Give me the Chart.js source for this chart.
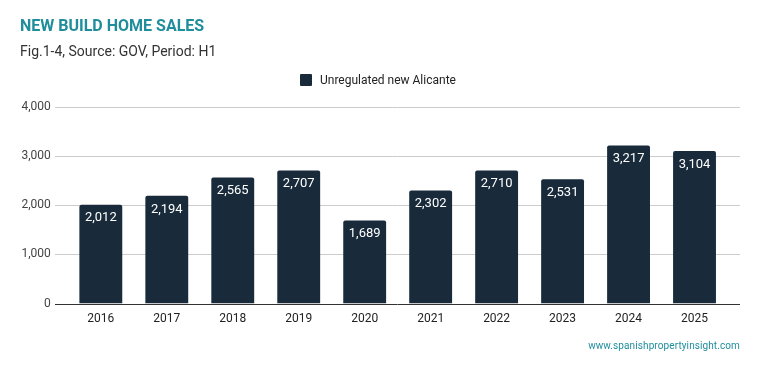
<!DOCTYPE html>
<html>
<head>
<meta charset="utf-8">
<script src="https://cdn.jsdelivr.net/npm/chart.js@4"></script>
<style>
  body { margin: 0; background: #fff; font-family: Roboto, sans-serif; }
  #wrap { position: relative; width: 759px; height: 371px; }
  #title { position: absolute; left: 20px; top: 16px; font-size: 16px; font-weight: bold; color: #1f8d9c; }
  #sub { position: absolute; left: 20px; top: 43px; font-size: 14px; color: #333; }
  #legend { position: absolute; left: 300px; top: 72px; font-size: 12px; color: #222; line-height: 16px; }
  #legend span { display: inline-block; width: 12px; height: 12px; background: #192b3b; border-radius: 1px; vertical-align: -2px; margin-right: 8px; }
  #foot { position: absolute; right: 19px; top: 340px; font-size: 10px; color: #1f8d9c; letter-spacing: 0.1px; }
  canvas { position: absolute; left: 0; top: 0; }
</style>
</head>
<body>
<div id="wrap">
  <canvas id="graph1" width="759" height="371"></canvas>
  <div id="title">NEW BUILD HOME SALES</div>
  <div id="sub">Fig.1-4, Source: GOV, Period: H1</div>
  <div id="legend"><span></span>Unregulated new Alicante</div>
  <div id="foot">www.spanishpropertyinsight.com</div>
</div>
<script>
const years = ['2016', '2017', '2018', '2019', '2020', '2021', '2022', '2023', '2024', '2025'];
const sales = [2012, 2194, 2565, 2707, 1689, 2302, 2710, 2531, 3217, 3104];
const yTicks = [0, 1000, 2000, 3000, 4000];

const barColor = '#192b3b';

// grid lines run wider than the bars, like the original
const gridPlugin = {
  id: 'wideGrid',
  beforeDatasetsDraw(chart) {
    const ctx = chart.ctx;
    const y = chart.scales.y;
    ctx.save();
    yTicks.forEach(v => {
      const py = Math.round(y.getPixelForValue(v)) + 0.5;
      ctx.strokeStyle = v === 0 ? '#333' : '#cccccc';
      ctx.lineWidth = 1;
      ctx.beginPath();
      ctx.moveTo(55, py);
      ctx.lineTo(740, py);
      ctx.stroke();
    });
    ctx.restore();
  }
};

const labelPlugin = {
  id: 'barLabels',
  afterDatasetsDraw(chart) {
    const ctx = chart.ctx;
    const meta = chart.getDatasetMeta(0);
    ctx.save();
    ctx.fillStyle = '#ffffff';
    ctx.font = '13px Roboto';
    ctx.textAlign = 'center';
    ctx.textBaseline = 'top';
    meta.data.forEach((bar, i) => {
      ctx.fillText(sales[i].toLocaleString('en-US'), bar.x, bar.y + 7);
    });
    ctx.restore();
  }
};

const ctx = document.getElementById('graph1').getContext('2d');

const data = {
  labels: years,
  datasets: [{
    label: 'Unregulated new Alicante',
    backgroundColor: barColor,
    borderRadius: 2,
    borderSkipped: 'bottom',
    barPercentage: 0.65,
    categoryPercentage: 1,
    data: sales
  }]
};

const options = {
  responsive: false,
  animation: false,
  layout: { padding: { top: 107, left: 4.5, right: 31.5, bottom: 37 } },
  plugins: {
    legend: { display: false },
    tooltip: { enabled: false }
  },
  scales: {
    x: {
      grid: { display: false, drawTicks: false },
      border: { display: false },
      ticks: { color: '#222', font: { family: 'Roboto', size: 12 }, padding: 8 }
    },
    y: {
      min: 0,
      max: 4000,
      afterBuildTicks: axis => { axis.ticks = yTicks.map(v => ({ value: v })); },
      grid: { display: false, drawTicks: false },
      border: { display: false },
      ticks: {
        color: '#444',
        font: { family: 'Roboto', size: 12 },
        padding: 17,
        callback: v => v.toLocaleString('en-US')
      }
    }
  }
};

new Chart(ctx, { type: 'bar', data: data, options: options, plugins: [gridPlugin, labelPlugin] });
</script>
</body>
</html>
